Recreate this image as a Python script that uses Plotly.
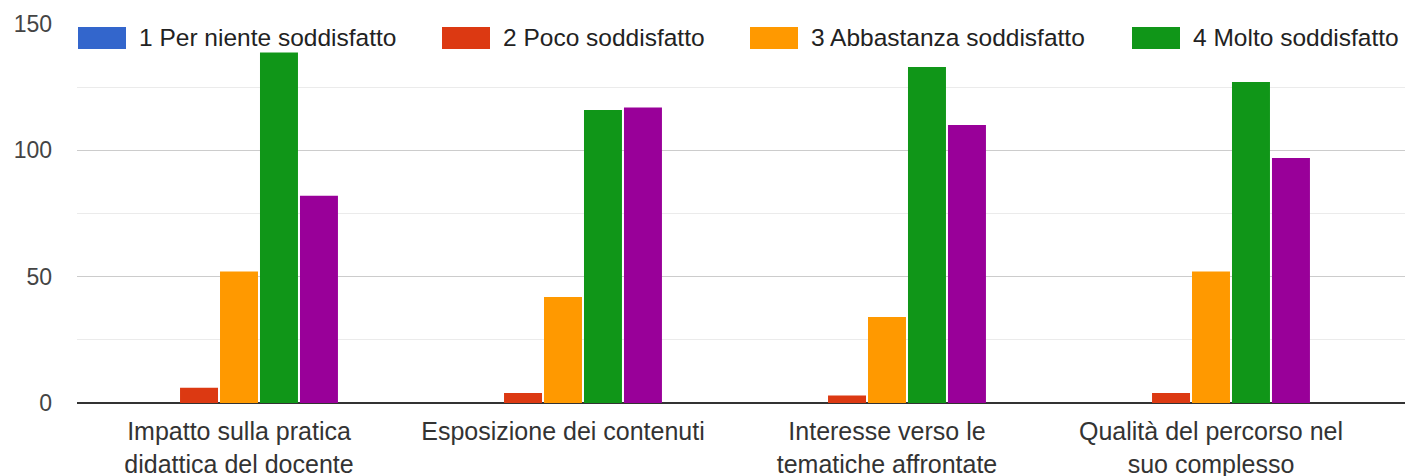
import plotly.graph_objects as go

categories = [
    "Impatto sulla pratica<br>didattica del docente",
    "Esposizione dei contenuti",
    "Interesse verso le<br>tematiche affrontate",
    "Qualità del percorso nel<br>suo complesso",
]
series_names = [
    "1 Per niente soddisfatto",
    "2 Poco soddisfatto",
    "3 Abbastanza soddisfatto",
    "4 Molto soddisfatto",
    "5",
]
s1 = [0, 0, 0, 0]
s2 = [6, 4, 3, 4]
s3 = [52, 42, 34, 52]
s4 = [139, 116, 133, 127]
s5 = [82, 117, 110, 97]
series_values = [s1, s2, s3, s4, s5]
colors = ["#3366cc", "#dc3912", "#ff9900", "#109618", "#990099"]

W, H = 1405, 476
ML, MR, MT, MB = 77, 0, 24, 73
PW = W - ML - MR
PH = H - MT - MB
GROUP_PX = 324.0

fig = go.Figure()
for name, vals, col in zip(series_names, series_values, colors):
    fig.add_trace(go.Bar(
        x=list(range(len(categories))), y=vals, name=name,
        marker=dict(color=col, line=dict(width=0)),
        showlegend=False,
    ))

x_max = -0.5 + PW / GROUP_PX

fig.update_layout(
    width=W, height=H,
    margin=dict(l=ML, r=MR, t=MT, b=MB, pad=0),
    paper_bgcolor="white", plot_bgcolor="white",
    barmode="group", bargap=0.383, bargroupgap=0.05,
    font=dict(family="Liberation Sans, Arial, sans-serif", size=24, color="#444444"),
    xaxis=dict(
        range=[-0.5, x_max], automargin=False,
        tickmode="array", tickvals=list(range(len(categories))), ticktext=categories,
        showgrid=False, zeroline=False, showline=False, ticks="",
        ticklabelstandoff=11,
        tickfont=dict(size=25, color="#333333"),
    ),
    yaxis=dict(
        range=[0, 150], automargin=False,
        tickmode="array", tickvals=[0, 50, 100, 150],
        showgrid=True, gridcolor="#cccccc", gridwidth=1,
        minor=dict(tickmode="array", tickvals=[25, 75, 125], showgrid=True, gridcolor="#ebebeb", gridwidth=1),
        zeroline=True, zerolinecolor="#333333", zerolinewidth=2,
        showline=False, ticks="", ticklabelstandoff=24,
        tickfont=dict(size=23, color="#444444"),
    ),
)

# custom legend (wide swatches like the original), positions in window pixels
legend_swatch_px = [78, 442, 750, 1132]
SW_W, SW_TOP, SW_BOT, TXT_Y = 48, 27, 49, 38

def px_to_paper_x(px):
    return (px - ML) / PW

def px_to_paper_y(py):
    return (MT + PH - py) / PH

for i, x0 in enumerate(legend_swatch_px):
    fig.add_shape(
        type="rect", xref="paper", yref="paper",
        x0=px_to_paper_x(x0), x1=px_to_paper_x(x0 + SW_W),
        y0=px_to_paper_y(SW_BOT), y1=px_to_paper_y(SW_TOP),
        fillcolor=colors[i], line=dict(width=0), layer="above",
    )
    fig.add_annotation(
        xref="paper", yref="paper",
        x=px_to_paper_x(x0 + SW_W + 11), y=px_to_paper_y(TXT_Y),
        xanchor="left", yanchor="middle", showarrow=False,
        text=series_names[i], font=dict(size=24.5, color="#222222"),
        bgcolor="white",
    )

fig.write_html(
    "out.html",
    config={"displayModeBar": False},
    post_script="document.body.style.margin='0';document.body.style.overflow='hidden';",
)
